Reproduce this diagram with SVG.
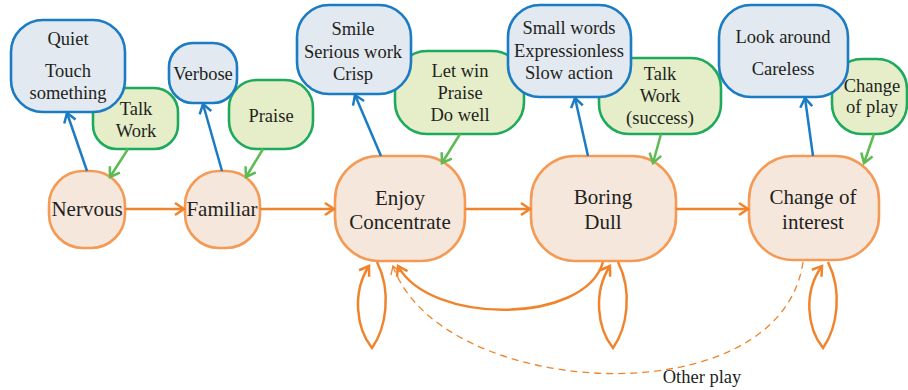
<svg xmlns="http://www.w3.org/2000/svg" width="908" height="390" viewBox="0 0 908 390">
<style>
.o{fill:#F5E7DC;stroke:#F59A55;stroke-width:2.6}
.b{fill:#E2E9F1;stroke:#1B7BC3;stroke-width:2.6}
.g{fill:#E5EEC9;stroke:#1EAA5C;stroke-width:2.6}
.t1{font-size:21px}
.t2{font-size:18.5px}
.ao{fill:none;stroke:#F0842C;stroke-width:2.5;marker-end:url(#mo)}
.ab{fill:none;stroke:#1B7BC3;stroke-width:2.5;marker-end:url(#mb)}
.ag{fill:none;stroke:#5CBB52;stroke-width:2.5;marker-end:url(#mg)}
.ad{fill:none;stroke:#F0842C;stroke-width:1.3;stroke-dasharray:7 5;marker-end:url(#md)}
</style>
<defs>
<marker id="mo" markerUnits="userSpaceOnUse" markerWidth="14" markerHeight="14" refX="11" refY="7" orient="auto" overflow="visible"><path d="M2,1 L11,7 L2,13" fill="none" stroke="#F0842C" stroke-width="2.5"/></marker>
<marker id="mb" markerUnits="userSpaceOnUse" markerWidth="14" markerHeight="14" refX="11" refY="7" orient="auto" overflow="visible"><path d="M2,1 L11,7 L2,13" fill="none" stroke="#1B7BC3" stroke-width="2.5"/></marker>
<marker id="mg" markerUnits="userSpaceOnUse" markerWidth="14" markerHeight="14" refX="11" refY="7" orient="auto" overflow="visible"><path d="M2,1 L11,7 L2,13" fill="none" stroke="#5CBB52" stroke-width="2.5"/></marker>
<marker id="md" markerUnits="userSpaceOnUse" markerWidth="14" markerHeight="14" refX="10" refY="6" orient="auto" overflow="visible"><path d="M2,1 L10,6 L2,11" fill="none" stroke="#F0842C" stroke-width="1.3"/></marker>
</defs>

<g font-family="'Liberation Serif', 'Times New Roman', 'DejaVu Serif', serif" fill="#231F20" text-anchor="middle">
<g id="green-boxes">
<g id="n-talkwork"><rect class="g" x="93" y="88" width="85" height="61" rx="24"/><text class="t2" x="136" y="115">Talk</text><text class="t2" x="136" y="137">Work</text></g>
<g id="n-praise"><rect class="g" x="229" y="80" width="84" height="69" rx="28"/><text class="t2" x="271" y="122">Praise</text></g>
<g id="n-letwin"><rect class="g" x="395" y="51" width="129" height="83" rx="32"/><text class="t2" x="460" y="77">Let win</text><text class="t2" x="460" y="99">Praise</text><text class="t2" x="460" y="121">Do well</text></g>
<g id="n-talksuccess"><rect class="g" x="599" y="58" width="122" height="76" rx="30"/><text class="t2" x="660" y="80">Talk</text><text class="t2" x="660" y="102">Work</text><text class="t2" x="660" y="124">(success)</text></g>
<g id="n-changeplay"><rect class="g" x="832" y="59" width="75" height="75" rx="30"/><text class="t2" x="872" y="92">Change</text><text class="t2" x="872" y="113">of play</text></g>
</g>

<g id="blue-boxes">
<g id="n-quiet"><rect class="b" x="11" y="20" width="114" height="92" rx="32"/><text class="t2" x="68" y="45">Quiet</text><text class="t2" x="68" y="77">Touch</text><text class="t2" x="68" y="99">something</text></g>
<g id="n-verbose"><rect class="b" x="169" y="43" width="68" height="60" rx="24"/><text class="t2" x="203" y="80">Verbose</text></g>
<g id="n-smile"><rect class="b" x="297" y="5" width="114" height="89" rx="32"/><text class="t2" x="353" y="35">Smile</text><text class="t2" x="353" y="58">Serious work</text><text class="t2" x="353" y="80">Crisp</text></g>
<g id="n-smallwords"><rect class="b" x="508" y="5" width="123" height="92" rx="32"/><text class="t2" x="569" y="34">Small words</text><text class="t2" x="569" y="57">Expressionless</text><text class="t2" x="569" y="79">Slow action</text></g>
<g id="n-lookaround"><rect class="b" x="719" y="5" width="129" height="92" rx="32"/><text class="t2" x="783" y="43">Look around</text><text class="t2" x="783" y="75">Careless</text></g>
</g>

<g id="orange-nodes">
<g id="n-nervous"><rect class="o" x="49" y="171" width="76" height="77" rx="34"/><text class="t1" x="87" y="216">Nervous</text></g>
<g id="n-familiar"><rect class="o" x="185" y="171" width="75" height="77" rx="34"/><text class="t1" x="222" y="216">Familiar</text></g>
<g id="n-enjoy"><rect class="o" x="335" y="156" width="130" height="105" rx="44"/><text class="t1" x="400" y="205">Enjoy</text><text class="t1" x="400" y="229">Concentrate</text></g>
<g id="n-boring"><rect class="o" x="531" y="156" width="145" height="105" rx="44"/><text class="t1" x="603" y="204">Boring</text><text class="t1" x="603" y="229">Dull</text></g>
<g id="n-change"><rect class="o" x="749" y="156" width="130" height="104" rx="44"/><text class="t1" x="813" y="204">Change of</text><text class="t1" x="813" y="229">interest</text></g>
</g>

<g id="connectors">
<path class="ao" d="M125,209 L184,209"/>
<path class="ao" d="M260,209 L334,209"/>
<path class="ao" d="M465,209 L530,209"/>
<path class="ao" d="M676,209 L748,209"/>
<path class="ab" d="M87,171 L67,113"/>
<path class="ab" d="M222,171 L203,104"/>
<path class="ab" d="M381,156 L355,95"/>
<path class="ab" d="M588,156 L575,98"/>
<path class="ab" d="M813,156 L805,98"/>
<path class="ag" d="M128,149 L110,177"/>
<path class="ag" d="M263,149 L246,177"/>
<path class="ag" d="M460,134 L442,163"/>
<path class="ag" d="M661,134 L653,163"/>
<path class="ag" d="M874,134 L864,163"/>
<path class="ao" d="M377,262 C392,292 386,328 372,348 C356,328 352,292 369,266"/>
<path class="ao" d="M618,262 C633,292 627,328 613,348 C597,328 593,292 610,266"/>
<path class="ao" d="M828,262 C843,292 837,328 823,348 C807,328 803,292 822,266"/>
<path class="ao" d="M603,262 C585,325 430,325 398,266"/>
<path class="ad" d="M803,262 C780,420 440,400 393,266"/>
<text class="t2" x="702" y="383">Other play</text>
</g>
</g>
</svg>
